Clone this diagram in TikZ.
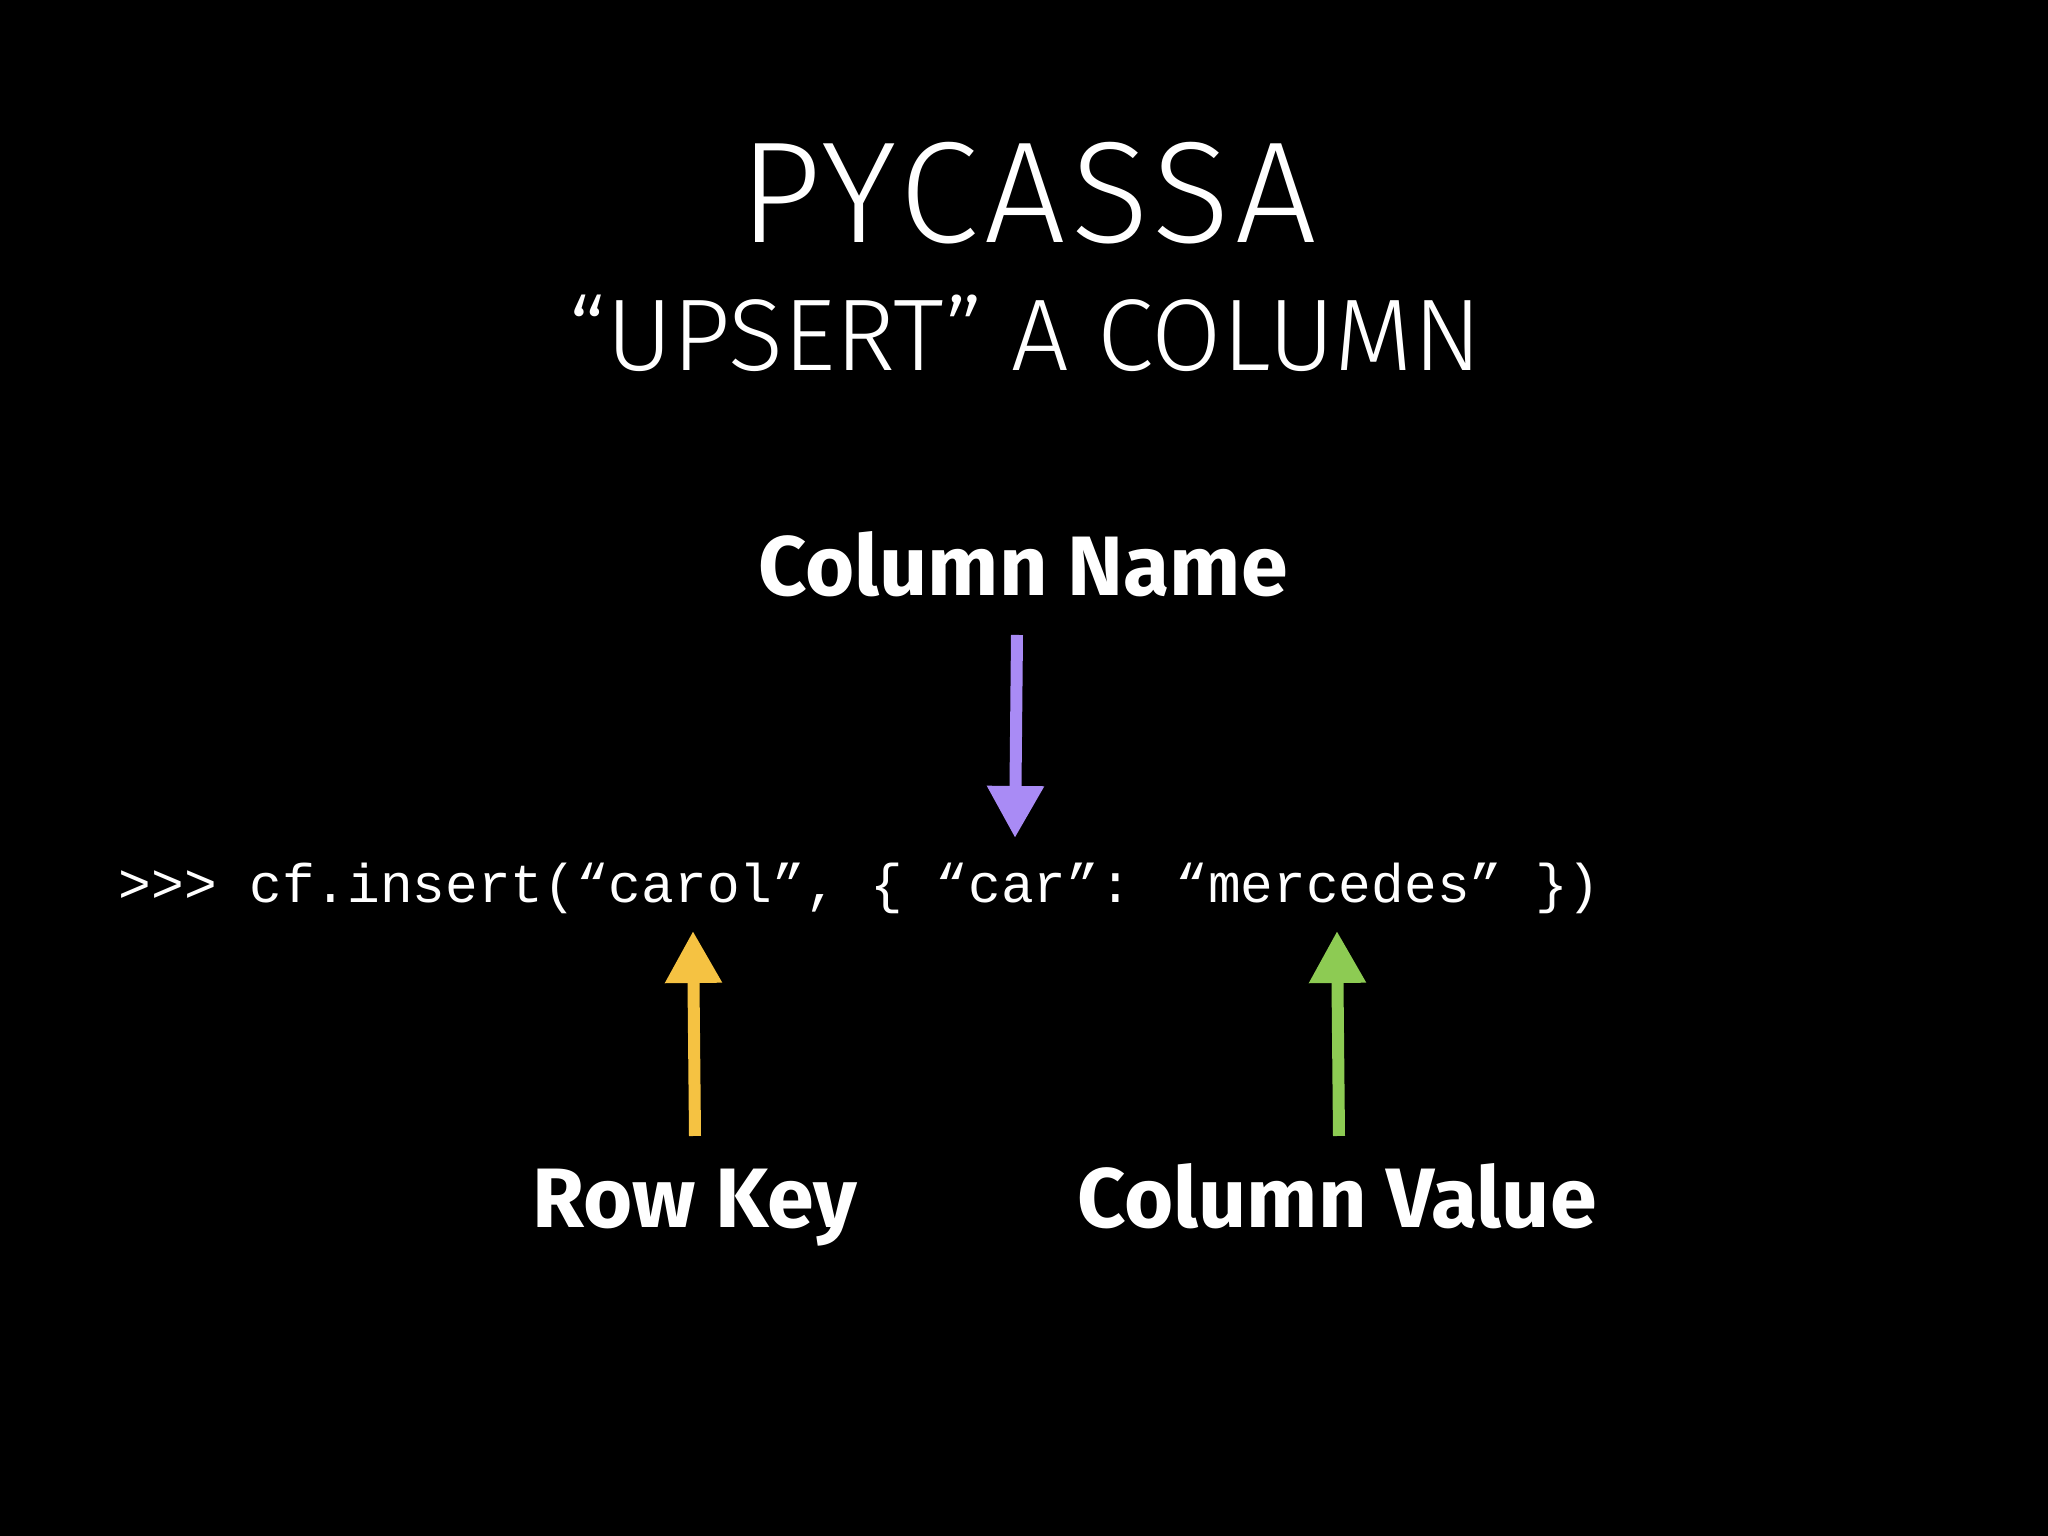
\documentclass[tikz,border=0pt]{standalone}
\usepackage{fontspec}
\setmainfont{Fira Sans}
\newfontfamily\thinfont{Fira Sans Light}
\newfontfamily\widefont[LetterSpace=4]{Fira Sans Light}
\newfontfamily\codefont{Liberation Mono}
\usetikzlibrary{arrows.meta}
\definecolor{cpurple}{HTML}{A98BF5}
\definecolor{cyellow}{HTML}{F5C242}
\definecolor{cgreen}{HTML}{8DCB53}
\tikzset{
  txt/.style={text=white, inner sep=0pt},
  lbl/.style={txt, font=\fontsize{24}{30}\selectfont\bfseries},
  arr/.style={line width=0.12cm, -{Triangle[length=0.52cm,width=0.54cm]}}
}
\begin{document}
\begin{tikzpicture}
\fill[black] (0,0) rectangle (20.48,15.36);
\useasboundingbox (0,0) rectangle (20.48,15.36);
\node[txt, font=\fontsize{41}{48}\widefont] (title) at (10.28,13.43) {PYCASSA};
\node[txt, font=\fontsize{29}{34}\thinfont] (sub) at (10.25,12.03) {“UPSERT” A COLUMN};
\node[lbl] (cn) at (10.23,9.72) {Column Name};
\node[txt, anchor=west, font=\fontsize{15.5}{18}\codefont] (code) at (1.18,6.48) {>>> cf.insert(“carol”, \{ “car”: “mercedes” \})};
\node[lbl, anchor=base] (rk) at (6.95,3.08) {Row Key};
\node[lbl, anchor=base] (cv) at (13.37,3.08) {Column Value};
\coordinate (p1) at (10.17,9.01); \coordinate (p2) at (10.15,6.98);
\coordinate (y1) at (6.95,4.00); \coordinate (y2) at (6.93,6.05);
\coordinate (g1) at (13.39,4.00); \coordinate (g2) at (13.37,6.05);
\draw[arr, cpurple] (p1) -- (p2);
\draw[arr, cyellow] (y1) -- (y2);
\draw[arr, cgreen] (g1) -- (g2);
\end{tikzpicture}
\end{document}
